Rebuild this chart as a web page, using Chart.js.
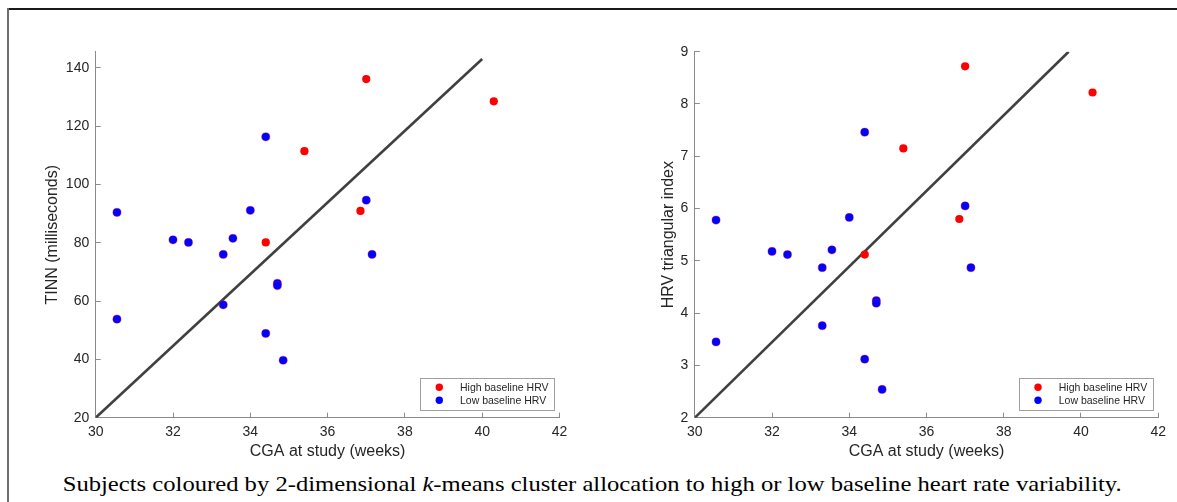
<!DOCTYPE html>
<html>
<head>
<meta charset="utf-8">
<script src="https://cdn.jsdelivr.net/npm/chart.js@4.4.1/dist/chart.umd.min.js"></script>
<style>
  html, body { margin: 0; padding: 0; background: #fff; }
  body { width: 1177px; height: 502px; position: relative; overflow: hidden; }
  #frameTop { position: absolute; left: 7px; top: 8px; width: 1170px; height: 2px; background: #1a1a1a; }
  #frameLeft { position: absolute; left: 7px; top: 8px; width: 2px; height: 494px; background: #6e6e6e; }
  #c1 { position: absolute; left: 0; top: 0; }
  #c2 { position: absolute; left: 590px; top: 0; }
  #caption { position: absolute; left: 0; top: 473.3px; white-space: nowrap;
    font-family: "Liberation Serif", "DejaVu Serif", serif; font-size: 22px; line-height: 22px; color: #000;
    transform-origin: 0 0; }
</style>
</head>
<body>
<div id="frameTop"></div>
<div id="frameLeft"></div>
<canvas id="c1" width="590" height="470"></canvas>
<canvas id="c2" width="587" height="470"></canvas>
<div id="caption">Subjects coloured by 2-dimensional <i>k</i>-means cluster allocation to high or low baseline heart rate variability.</div>
<script>
// ---- data ----
const highCga   = [37.0, 40.3, 35.4, 36.85, 34.4];
const highTinn  = [136.1, 128.5, 111.4, 90.9, 80.1];
const highHrvTi = [8.72, 8.22, 7.15, 5.80, 5.12];

const lowCga    = [34.4, 37.0, 30.55, 34.0, 32.0, 32.4, 33.55, 33.3, 37.15, 34.7, 34.7, 33.3, 30.55, 34.4, 34.85];
const lowTinn   = [116.3, 94.6, 90.4, 91.1, 81.0, 80.1, 81.5, 76.0, 76.0, 66.1, 65.3, 58.7, 53.8, 48.9, 39.7];
const lowHrvTi  = [7.46, 6.05, 5.78, 5.83, 5.18, 5.12, 5.21, 4.87, 4.87, 4.24, 4.19, 3.76, 3.45, 3.12, 2.54];

const tinnFitX  = [30, 40];
const tinnFitY  = [20, 143];
const hrvFitX   = [30, 39.68];
const hrvFitY   = [2, 9];

const xTicks    = [30, 32, 34, 36, 38, 40, 42];
const tinnTicks = [20, 40, 60, 80, 100, 120, 140];
const hrvTicks  = [2, 3, 4, 5, 6, 7, 8, 9];

const seriesLabels = ['High baseline HRV', 'Low baseline HRV'];
const xTitle = 'CGA at study (weeks)';

// ---- helpers ----
const pts = (xs, ys) => xs.map((x, i) => ({x: x, y: ys[i]}));
const TXT = '#262626';
const AX = '#8a8a8a';

const insideLegend = {
  id: 'insideLegend',
  afterDraw(chart) {
    const ctx = chart.ctx, a = chart.chartArea;
    const items = chart.data.datasets.filter(d => d.label);
    const w = 134, h = 31.6;
    const left = a.right - 5.5 - w, top = a.bottom - 8.4 - h;
    ctx.save();
    ctx.fillStyle = '#fff';
    ctx.fillRect(left, top, w, h);
    ctx.strokeStyle = '#a0a0a0';
    ctx.lineWidth = 1;
    ctx.strokeRect(Math.round(left) + 0.5, Math.round(top) + 0.5, Math.round(w), Math.round(h));
    ctx.font = '10.5px "Liberation Sans", Arial, sans-serif';
    ctx.textBaseline = 'middle';
    ctx.textAlign = 'left';
    items.forEach((d, i) => {
      const cy = top + 9.5 + i * 13;
      ctx.beginPath();
      ctx.arc(left + 19.3, cy, 3.7, 0, Math.PI * 2);
      ctx.fillStyle = d.backgroundColor;
      ctx.fill();
      ctx.fillStyle = TXT;
      ctx.fillText(d.label, left + 40, cy + 0.5);
    });
    ctx.restore();
  }
};

function makeChart(id, highY, lowY, fitX, fitY, yMin, yMax, yStep, yTickVals, yTitle, padLeft, padRight, yTitlePad) {
  const yW = 60, xH = 50, top = 51.7, bottomEdge = 417.7, H = 470;
  return new Chart(document.getElementById(id), {
    type: 'scatter',
    data: {
      datasets: [
        { label: seriesLabels[0], data: pts(highCga, highY), backgroundColor: '#ff0000', borderWidth: 0, pointRadius: 4.1, pointHoverRadius: 4.1 },
        { label: seriesLabels[1], data: pts(lowCga, lowY), backgroundColor: '#0000ff', borderColor: 'rgba(220,0,60,0.6)', borderWidth: 0.6, pointRadius: 4.1, pointHoverRadius: 4.1 },
        { label: '', type: 'line', data: pts(fitX, fitY), borderColor: '#404040', borderWidth: 2.6, pointRadius: 0, showLine: true, fill: false }
      ]
    },
    options: {
      responsive: false,
      animation: false,
      devicePixelRatio: 1,
      layout: { padding: { left: padLeft - yW, right: padRight, top: top, bottom: H - bottomEdge - xH } },
      plugins: { legend: { display: false }, tooltip: { enabled: false } },
      scales: {
        x: {
          type: 'linear', min: 30, max: 42,
          afterFit(s) { s.height = xH; },
          afterBuildTicks(s) { s.ticks = xTicks.map(v => ({value: v})); },
          ticks: { color: TXT, padding: 11, font: { family: '"Liberation Sans", Arial, sans-serif', size: 14 } },
          grid: { drawOnChartArea: false, drawTicks: true, tickLength: -5, color: AX, lineWidth: 1 },
          border: { color: AX, width: 1 },
          title: { display: true, text: xTitle, color: TXT, padding: { top: 0, bottom: 6.5 }, font: { family: '"Liberation Sans", Arial, sans-serif', size: 16 } }
        },
        y: {
          type: 'linear', min: yMin, max: yMax,
          afterFit(s) { s.width = yW; },
          afterBuildTicks(s) { s.ticks = yTickVals.map(v => ({value: v})); },
          ticks: { color: TXT, padding: 11.5, font: { family: '"Liberation Sans", Arial, sans-serif', size: 14 } },
          grid: { drawOnChartArea: false, drawTicks: true, tickLength: -5, color: AX, lineWidth: 1 },
          border: { color: AX, width: 1 },
          title: { display: true, text: yTitle, color: TXT, padding: { top: yTitlePad, bottom: 0 }, font: { family: '"Liberation Sans", Arial, sans-serif', size: 16 } }
        }
      }
    },
    plugins: [insideLegend]
  });
}

makeChart('c1', highTinn, lowTinn, tinnFitX, tinnFitY, 20, 145.5, 20, tinnTicks, 'TINN (milliseconds)', 95.7, 590 - 559.5, 7.4);
makeChart('c2', highHrvTi, lowHrvTi, hrvFitX, hrvFitY, 2, 9, 1, hrvTicks, 'HRV triangular index', 694.8 - 590, 587 - (1159 - 590), 24);

// caption: stretch to match the reference span (x 62.7 -> 1121.7)
const cap = document.getElementById('caption');
const w = cap.getBoundingClientRect().width;
const target = 1059;
cap.style.transform = 'translateX(62.7px) scaleX(' + (target / w) + ')';
</script>
</body>
</html>
